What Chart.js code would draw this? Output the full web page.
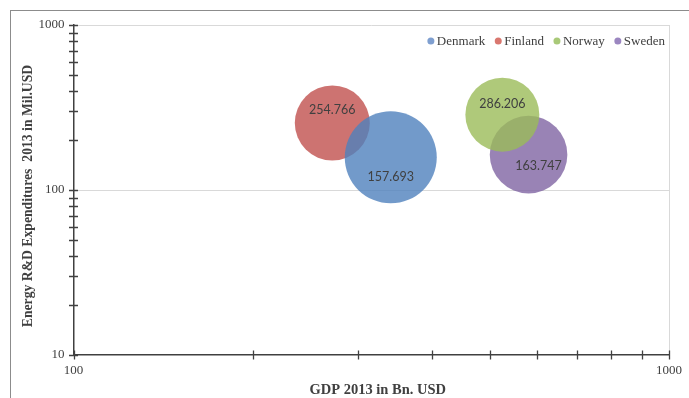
<!DOCTYPE html>
<html>
<head>
<meta charset="utf-8">
<script src="https://cdn.jsdelivr.net/npm/chart.js@4.4.0/dist/chart.umd.min.js"></script>
<style>
html, body { margin: 0; padding: 0; background: #fff; }
</style>
</head>
<body>
<canvas id="bubbles" width="689" height="398"></canvas>
<script>
// data
var countries = ['Denmark', 'Finland', 'Norway', 'Sweden'];
var gdp = [341, 272, 525, 581];              // GDP 2013, Bn. USD
var rnd = [157.693, 254.766, 286.206, 163.747]; // Energy R&D 2013, Mil. USD
var bubbleSize = [2116, 1406, 1369, 1505];   // bubble area (sqrt -> radius)
var xTicks = [100, 200, 300, 400, 500, 600, 700, 800, 900, 1000];
var yTicks = [10, 20, 30, 40, 50, 60, 70, 80, 90, 100, 200, 300, 400, 500, 600, 700, 800, 900, 1000];
var xTitle = 'GDP 2013 in Bn. USD';
var yTitle = 'Energy R&D Expenditures  2013 in Mil.USD';

var colors = ['rgba(79,129,189,0.8)', 'rgba(192,80,77,0.8)', 'rgba(155,187,89,0.8)', 'rgba(128,100,162,0.8)'];
var legendColors = ['#7f9fd0', '#d9776f', '#a9c978', '#9b86c0'];
// where each value label sits relative to its bubble centre
var labelShift = [[0, 20], [0, -13], [0, -11], [10, 11]];

var serif = 'Liberation Serif';
var ink = '#404040';

function isMajor(v) {
    var l = Math.log10(v);
    return Math.abs(l - Math.round(l)) < 1e-9;
}

var datasets = countries.map(function (c, i) {
    return {
        label: c,
        data: [{ x: gdp[i], y: rnd[i], r: Math.sqrt(bubbleSize[i]) }],
        backgroundColor: colors[i],
        borderWidth: 0
    };
});

// outer frame of the picture
var framePlugin = {
    id: 'frame',
    beforeDraw: function (chart) {
        var ctx = chart.ctx;
        ctx.save();
        ctx.strokeStyle = '#8c8c8c';
        ctx.lineWidth = 1;
        ctx.strokeRect(10.5, 10.5, 720, 420);
        ctx.restore();
    }
};

// value text inside the bubbles
var labelPlugin = {
    id: 'bubbleLabels',
    afterDatasetsDraw: function (chart) {
        var ctx = chart.ctx;
        ctx.save();
        ctx.font = '12.5px Lato';
        ctx.fillStyle = ink;
        ctx.textAlign = 'center';
        ctx.textBaseline = 'middle';
        chart.data.datasets.forEach(function (ds, i) {
            var el = chart.getDatasetMeta(i).data[0];
            ctx.fillText(String(ds.data[0].y), el.x + labelShift[i][0], el.y + labelShift[i][1]);
        });
        ctx.restore();
    }
};

// tick marks that cross the axis lines, plus the two axis titles
var axisPlugin = {
    id: 'axisExtras',
    afterDraw: function (chart) {
        var ctx = chart.ctx;
        var xs = chart.scales.x, ys = chart.scales.y;
        var a = chart.chartArea;
        ctx.save();
        ctx.strokeStyle = ink;
        ctx.lineWidth = 1.3;
        ctx.beginPath();
        xs.ticks.forEach(function (t) {
            var px = Math.round(xs.getPixelForValue(t.value)) + 0.5;
            ctx.moveTo(px, a.bottom - 4.5);
            ctx.lineTo(px, a.bottom + 4.5);
        });
        ys.ticks.forEach(function (t) {
            var py = Math.round(ys.getPixelForValue(t.value)) + 0.5;
            ctx.moveTo(a.left - 4.5, py);
            ctx.lineTo(a.left + 4.5, py);
        });
        ctx.stroke();

        ctx.fillStyle = ink;
        ctx.textAlign = 'center';
        ctx.textBaseline = 'middle';
        ctx.font = 'bold 14.5px "' + serif + '"';
        ctx.fillText(xTitle, (a.left + a.right) / 2 + 6.5, 390);
        ctx.translate(28, (a.top + a.bottom) / 2 + 6);
        ctx.rotate(-Math.PI / 2);
        ctx.font = 'bold 13.7px "' + serif + '"';
        ctx.fillText(yTitle, 0, 0);
        ctx.restore();
    }
};

// legend drawn inside the plot, top right
var legendPlugin = {
    id: 'innerLegend',
    afterDraw: function (chart) {
        var ctx = chart.ctx;
        var a = chart.chartArea;
        ctx.save();
        ctx.font = '13px "' + serif + '"';
        ctx.textBaseline = 'middle';
        ctx.textAlign = 'left';
        var y = 41;
        var widths = countries.map(function (c) { return ctx.measureText(c).width; });
        var total = 0;
        widths.forEach(function (w) { total += 6 + w; });
        total += 13 * (countries.length - 1);
        var x = a.right - 4 - total; // x = dot centre
        countries.forEach(function (c, i) {
            ctx.fillStyle = legendColors[i];
            ctx.beginPath();
            ctx.arc(x, y, 3.5, 0, Math.PI * 2);
            ctx.fill();
            ctx.fillStyle = ink;
            ctx.fillText(c, x + 6, y + 0.5);
            x += 6 + widths[i] + 13;
        });
        ctx.restore();
    }
};

function setTicks(list) {
    return function (s) {
        s.ticks = list.map(function (v) { return { value: v, major: isMajor(v) }; });
    };
}

function noPad(s) {
    s.paddingTop = 0; s.paddingBottom = 0; s.paddingLeft = 0; s.paddingRight = 0;
}

var ctxBubbles = document.getElementById('bubbles');
new Chart(ctxBubbles, {
    type: 'bubble',
    data: { datasets: datasets },
    options: {
        responsive: false,
        animation: false,
        layout: { autoPadding: false, padding: { left: 15, top: 25, right: 20, bottom: 0 } },
        plugins: {
            legend: { display: false },
            tooltip: { enabled: false }
        },
        scales: {
            x: {
                type: 'logarithmic',
                min: 100,
                max: 1000,
                position: 'bottom',
                afterBuildTicks: setTicks(xTicks),
                border: { color: ink, width: 1.5 },
                grid: {
                    drawTicks: false,
                    color: function (c) {
                        return (c.tick && isMajor(c.tick.value) && c.tick.value > 100) ? '#d9d9d9' : 'rgba(0,0,0,0)';
                    }
                },
                ticks: {
                    autoSkip: false,
                    maxRotation: 0,
                    padding: 8,
                    color: ink,
                    font: { family: serif, size: 13 },
                    callback: function (v) { return isMajor(v) ? String(v) : ''; }
                },
                afterFit: function (s) { s.height = 43; noPad(s); }
            },
            y: {
                type: 'logarithmic',
                min: 10,
                max: 1000,
                afterBuildTicks: setTicks(yTicks),
                border: { color: ink, width: 1.5 },
                grid: {
                    drawTicks: false,
                    color: function (c) {
                        return (c.tick && isMajor(c.tick.value) && c.tick.value > 10) ? '#d9d9d9' : 'rgba(0,0,0,0)';
                    }
                },
                ticks: {
                    autoSkip: false,
                    padding: 9,
                    color: ink,
                    font: { family: serif, size: 13 },
                    callback: function (v) { return isMajor(v) ? String(v) : ''; }
                },
                afterFit: function (s) { s.width = 58.5; noPad(s); }
            }
        }
    },
    plugins: [framePlugin, labelPlugin, axisPlugin, legendPlugin]
});
</script>
</body>
</html>
